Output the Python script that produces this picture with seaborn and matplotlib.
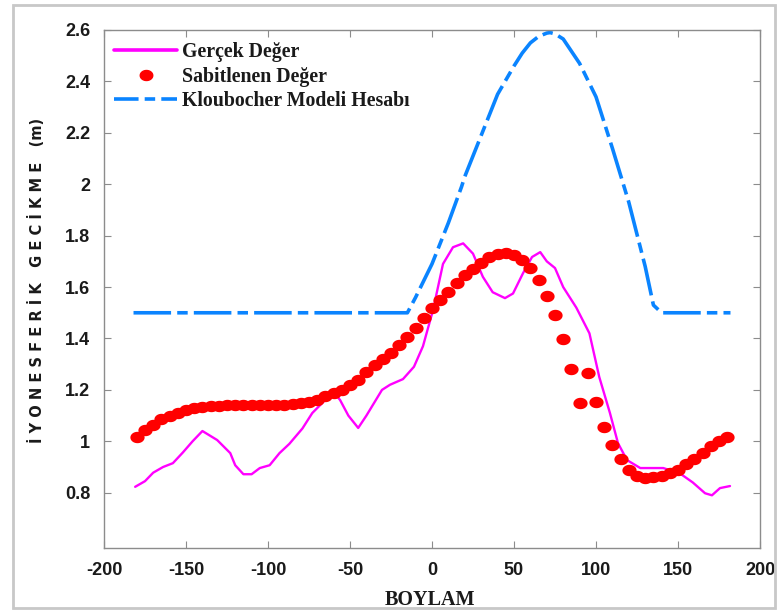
import numpy as np
import pandas as pd
import matplotlib
matplotlib.use("Agg")
import matplotlib.pyplot as plt
import seaborn as sns
from matplotlib.lines import Line2D
from matplotlib.patches import Rectangle
from matplotlib.path import Path

# ---------------- data ----------------
# Gerçek Değer (magenta line)
real_x = [-181, -175, -170, -164, -158, -152, -146, -140, -131, -123, -120, -115, -110,
          -105, -99, -93, -87, -79, -73, -66, -59, -56, -51, -45, -40, -30.5, -25.6,
          -17.7, -11, -5.5, 0.6, 6.7, 12.8, 19, 25, 31, 37, 44.5, 49.4, 55.5, 61, 66,
          70, 75, 80, 88, 96, 102, 108.5, 113.4, 118.9, 127, 141, 151, 159, 166.5,
          170.7, 175.6, 181.7]
real_y = [0.823, 0.845, 0.878, 0.90, 0.915, 0.956, 1.0, 1.04, 1.005, 0.954, 0.907, 0.872,
          0.872, 0.896, 0.907, 0.954, 0.99, 1.05, 1.11, 1.155, 1.185, 1.16, 1.10, 1.052,
          1.10, 1.2, 1.22, 1.242, 1.29, 1.37, 1.51, 1.69, 1.755, 1.77, 1.73, 1.64, 1.58,
          1.557, 1.575, 1.654, 1.717, 1.736, 1.70, 1.674, 1.60, 1.52, 1.42, 1.25, 1.11,
          0.993, 0.927, 0.896, 0.896, 0.876, 0.84, 0.798, 0.79, 0.818, 0.826]

# Sabitlenen Değer (red dots), every 5 degrees from -180 to 180
fit_x = list(range(-180, 181, 5))
fit_y = [1.017, 1.045, 1.065, 1.085, 1.10, 1.112, 1.12, 1.128, 1.133, 1.137, 1.139,
         1.14, 1.14, 1.14, 1.14, 1.14, 1.14, 1.141, 1.143, 1.145, 1.148, 1.152, 1.162,
         1.175, 1.187, 1.20, 1.22, 1.24, 1.27, 1.295, 1.32, 1.345, 1.375, 1.405, 1.44,
         1.48, 1.52, 1.55, 1.58, 1.615, 1.647, 1.67, 1.695, 1.717, 1.728, 1.732, 1.725,
         1.705, 1.674, 1.627, 1.565, 1.49, 1.398, 1.28, 1.148, 1.265, 1.153, 1.055,
         0.985, 0.933, 0.89, 0.865, 0.857, 0.86, 0.865, 0.875, 0.89, 0.91, 0.93, 0.955,
         0.98, 1.0, 1.017]

# Kloubocher Modeli Hesabı (blue dash-dot)
klob_x = [-182, -15, -10, 0, 10, 18, 20, 30, 40, 50, 55, 60, 65, 70, 72, 75, 80, 90,
          100, 110, 120, 130, 135, 140, 182]
klob_y = [1.50, 1.50, 1.56, 1.69, 1.85, 1.99, 2.03, 2.19, 2.35, 2.46, 2.51, 2.55, 2.575,
          2.588, 2.59, 2.585, 2.565, 2.47, 2.34, 2.14, 1.93, 1.68, 1.53, 1.50, 1.50]

labels = ["Gerçek Değer", "Sabitlenen Değer", "Kloubocher Modeli Hesabı"]
x_ticks = [-200, -150, -100, -50, 0, 50, 100, 150, 200]
y_ticks = [0.8, 1.0, 1.2, 1.4, 1.6, 1.8, 2.0, 2.2, 2.4, 2.6]
y_ticklabels = ["0.8", "1", "1.2", "1.4", "1.6", "1.8", "2", "2.2", "2.4", "2.6"]

# ---------------- style ----------------
sns.set_theme(style="white")
plt.rcParams['font.family'] = ['DejaVu Sans']

MAGENTA = "#ff00ff"
RED = "#ff0000"
BLUE = "#0a84ff"
SPINE = "#8c8c8c"

fig = plt.figure(figsize=(7.78, 6.14), dpi=100)
ax = fig.add_axes([104 / 778, 1 - 548 / 614, 656 / 778, 518 / 614])

# ellipse marker (wider than tall)
t = np.linspace(0, 2 * np.pi, 60)
ell = Path(np.column_stack([np.cos(t) * 1.0, np.sin(t) * 0.8]), closed=True)

dash_pattern = (0, (10.4, 1.7, 2.9, 1.7))

df_k = pd.DataFrame({"x": klob_x, "y": klob_y})
df_r = pd.DataFrame({"x": real_x, "y": real_y})
df_f = pd.DataFrame({"x": fit_x, "y": fit_y})

sns.lineplot(data=df_k, x="x", y="y", ax=ax, color=BLUE, linewidth=2.6, sort=False,
             estimator=None)
ax.lines[-1].set_linestyle(dash_pattern)
ax.lines[-1].set_dash_capstyle("butt")
sns.lineplot(data=df_r, x="x", y="y", ax=ax, color=MAGENTA, linewidth=1.7, sort=False,
             estimator=None)
sns.scatterplot(data=df_f, x="x", y="y", ax=ax, color=RED, marker=ell, s=105,
                linewidth=0, zorder=5)

ax.set_xlim(-200, 200)
ax.set_ylim(0.585, 2.6)
ax.set_xticks(x_ticks)
ax.set_xticklabels([str(v) for v in x_ticks])
ax.set_yticks(y_ticks)
ax.set_yticklabels(y_ticklabels)
ax.set_xlabel("")
ax.set_ylabel("")

for s in ax.spines.values():
    s.set_visible(True)
    s.set_color(SPINE)
    s.set_linewidth(1.0)

ax.tick_params(axis="both", which="both", direction="in", length=5, width=0.8,
               color=SPINE, top=True, right=True, bottom=True, left=True,
               labelsize=13, labelcolor="#1a1a1a", pad=10)
for lab in ax.get_xticklabels() + ax.get_yticklabels():
    lab.set_fontfamily("Liberation Sans")
    lab.set_fontweight("bold")

# x label
fig.text(430 / 778, 1 - 600 / 614, "BOYLAM", ha="center", va="center",
         fontfamily="Liberation Serif", fontweight="bold", fontsize=14.5, color="#1a1a1a")
# y label
fig.text(37 / 778, 1 - 280 / 614, "İ Y O N E S F E R İ K   G E C İ K M E   (m)",
         rotation=90, ha="center", va="center", fontfamily="DejaVu Sans",
         fontweight="heavy", fontsize=10.5, color="#1a1a1a")

# legend
handles = [
    Line2D([0], [0], color=MAGENTA, linewidth=2.6),
    Line2D([0], [0], color=RED, linestyle="none", marker=ell, markersize=9),
    Line2D([0], [0], color=BLUE, linewidth=2.6, linestyle=(0, (6.8, 1.7, 2.9, 1.7))),
]
leg = ax.legend(handles, labels, loc="upper left", bbox_to_anchor=(0.015, 0.977),
                frameon=False, borderpad=0, borderaxespad=0, handlelength=3.2,
                handletextpad=0.25, labelspacing=0.24,
                prop={"family": "Liberation Serif", "weight": "bold", "size": 14.3})
for txt in leg.get_texts():
    txt.set_color("#1a1a1a")

# outer grey frame
fig.patches.append(Rectangle((13 / 778, 1 - 608 / 614), (775 - 13) / 778, (608 - 5) / 614,
                             transform=fig.transFigure, fill=False,
                             edgecolor="#c8c8c8", linewidth=2))

fig.savefig("out.png", dpi=100)
